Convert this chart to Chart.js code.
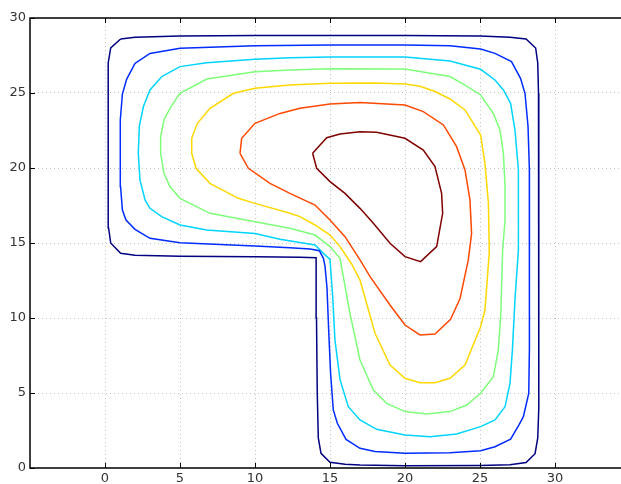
<!DOCTYPE html>
<html>
<head>
<meta charset="utf-8">
<script src="https://cdn.jsdelivr.net/npm/chart.js@4.4.1/dist/chart.umd.min.js"></script>
<style>
  html, body { margin: 0; padding: 0; background: #fff; }
  #wrap { width: 621px; height: 484px; }
</style>
</head>
<body>
<div id="wrap"><canvas id="canvas" width="621" height="484"></canvas></div>
<script>
// tick labels
var xTicks = [0, 5, 10, 15, 20, 25, 30];
var yTicks = [0, 5, 10, 15, 20, 25, 30];

// contour levels, lowest to highest (jet colours)
var levelColors = ['#000080', '#002cff', '#00d4ff', '#7dff7a', '#ffd800', '#ff4800', '#800000'];

// level 1
var c1x = [1.04, 2, 5, 10, 15, 20, 25, 27, 28.07, 28.71, 28.85, 28.9, 28.93, 28.93, 28.9, 28.85, 28.67, 28.07, 27, 25, 20, 17, 16, 15, 14.4, 14.22, 14.15, 14.1, 14.08, 14.07, 13, 10, 5, 2, 1.04, 0.38, 0.24, 0.2, 0.2, 0.24, 0.38, 1.04];
var c1y = [28.6, 28.72, 28.8, 28.83, 28.84, 28.83, 28.8, 28.72, 28.6, 28.0, 27, 25, 20, 10, 4, 2, 0.95, 0.36, 0.22, 0.17, 0.15, 0.2, 0.25, 0.38, 0.98, 2, 5, 10, 13, 14.02, 14.05, 14.08, 14.12, 14.18, 14.31, 15.0, 16, 20, 25, 27, 28.0, 28.6];
// level 2
var c2x = [2, 3, 5, 10, 15, 20, 23, 25.04, 26, 27.1, 27.7, 28, 28.2, 28.29, 28.3, 28.29, 28.25, 27.89, 27.6, 27.04, 26, 25.04, 23, 20, 18, 17, 16.07, 15.49, 15.22, 15.04, 14.92, 14.8, 14.67, 14.56, 14.29, 13.67, 12.33, 10, 5, 3, 2, 1.4, 1.16, 1.04, 1.0, 1.04, 1.16, 1.44, 2];
var c2y = [26.98, 27.64, 27.98, 28.15, 28.2, 28.2, 28.15, 27.93, 27.64, 27.09, 25.98, 24.98, 22.8, 20, 15, 8, 4.98, 3.42, 2.87, 1.93, 1.42, 1.15, 1.02, 0.98, 1.1, 1.31, 1.91, 2.98, 3.87, 6.31, 9, 12, 13.44, 13.98, 14.49, 14.6, 14.69, 14.8, 15.02, 15.31, 15.91, 16.53, 17.2, 18.75, 21, 23.2, 24.93, 25.91, 26.98];
// level 3
var c3x = [3.78, 5, 6.78, 10, 12.33, 15, 20, 23, 25.04, 26, 26.56, 27.04, 27.33, 27.56, 27.56, 27.56, 27.33, 27.16, 27, 26.67, 26, 25.04, 23.44, 21.67, 20, 18.11, 17, 16.22, 15.67, 15.33, 15.18, 15, 14.56, 14, 11.67, 10, 6.78, 5, 3.78, 3, 2.67, 2.33, 2.22, 2.29, 2.56, 3, 3.78];
var c3y = [26.09, 26.76, 27.02, 27.25, 27.35, 27.4, 27.4, 27.13, 26.58, 25.87, 25.2, 24.31, 22.53, 19.87, 16.53, 14.53, 11.2, 7.87, 5.64, 4.09, 3.2, 2.76, 2.27, 2.09, 2.2, 2.58, 3.2, 4.09, 5.87, 8.53, 11.42, 13.91, 14.31, 14.87, 15.25, 15.64, 15.87, 16.2, 16.76, 17.31, 17.87, 19.2, 20.98, 22.8, 24.1, 25.2, 26.09];
// level 4
var c4x = [4.33, 5, 6.78, 10, 12.33, 15, 20, 23, 24, 25.04, 25.89, 26.33, 26.56, 26.67, 26.67, 26.51, 26.38, 26.22, 25.89, 25.04, 24.11, 23, 21.44, 20, 18.78, 17.89, 17, 16.33, 15.67, 15, 14, 12.33, 10, 7, 5, 4.33, 3.93, 3.71, 3.71, 3.93, 4.33];
var c4y = [23.98, 24.98, 25.93, 26.42, 26.53, 26.62, 26.6, 26.1, 25.53, 24.87, 23.64, 22.53, 20.98, 18.76, 16.53, 14.53, 10.09, 7.87, 6.09, 4.98, 4.2, 3.76, 3.6, 3.76, 4.31, 5.2, 7.2, 10.31, 13.98, 14.76, 15.53, 15.98, 16.42, 16.98, 17.98, 18.76, 19.64, 20.98, 22.09, 23.2, 23.98];
// level 5
var c5x = [5.78, 6.16, 7, 8.56, 10, 12.33, 15, 18, 20, 21, 22, 23, 24, 25.04, 25.33, 25.56, 25.62, 25.33, 25.04, 24, 23, 22, 21, 20, 19, 18, 17, 16.44, 15.67, 15, 14, 13, 12.33, 10, 8.89, 7, 6.07, 5.78, 5.78];
var c5y = [21.98, 22.98, 23.98, 24.98, 25.31, 25.53, 25.65, 25.67, 25.6, 25.45, 25.1, 24.6, 23.87, 22.2, 20.31, 17.64, 14.4, 10.53, 9.42, 6.87, 5.98, 5.69, 5.69, 5.98, 6.87, 8.98, 12.53, 13.6, 14.76, 15.53, 16.2, 16.76, 16.98, 17.64, 17.98, 18.98, 19.98, 20.98, 21.98];
// level 6
var c6x = [9, 9.11, 10, 11.67, 13, 15, 17, 20, 21.22, 22.56, 23.44, 24, 24.33, 24.44, 24.22, 23.67, 23.04, 22, 21, 20, 19, 17.67, 17, 16, 15, 14, 12.33, 11, 9.56, 9];
var c6y = [20.98, 21.98, 22.98, 23.64, 23.98, 24.27, 24.36, 24.2, 23.76, 22.87, 21.42, 19.87, 17.87, 15.64, 13.87, 11.3, 9.91, 8.93, 8.87, 9.53, 10.87, 12.76, 13.87, 15.42, 16.53, 17.53, 18.31, 18.98, 19.98, 20.98];
// level 7
var c7x = [13.84, 14.78, 15.67, 17, 18.11, 20, 21.22, 22, 22.44, 22.51, 22.11, 21.04, 20, 19, 17.89, 17, 16, 15, 14.11, 13.84];
var c7y = [20.98, 22.02, 22.27, 22.42, 22.38, 21.98, 21.2, 20.09, 18.31, 16.98, 14.76, 13.76, 14.09, 14.98, 16.31, 17.31, 18.31, 19.09, 19.98, 20.98];

var contours = [[c1x, c1y], [c2x, c2y], [c3x, c3y], [c4x, c4y], [c5x, c5y], [c6x, c6y], [c7x, c7y]];

var datasets = contours.map(function(c, i) {
    return {
        data: c[0].map(function(x, j) { return {x: x, y: c[1][j]}; }),
        showLine: true,
        borderColor: levelColors[i],
        borderWidth: 1.5,
        pointRadius: 0,
        tension: 0,
        fill: false
    };
});

// axes frame and inward tick marks
var frame = {
    id: 'frame',
    afterDraw: function(chart) {
        var ctx = chart.ctx, a = chart.chartArea;
        var sx = chart.scales.x, sy = chart.scales.y;
        ctx.save();
        ctx.strokeStyle = '#000';
        ctx.lineWidth = 1.5;
        ctx.beginPath();
        ctx.moveTo(a.right + 2, a.top);
        ctx.lineTo(a.left, a.top);
        ctx.lineTo(a.left, a.bottom);
        ctx.lineTo(a.right + 2, a.bottom);
        ctx.stroke();
        ctx.lineWidth = 1;
        ctx.beginPath();
        xTicks.forEach(function(v) {
            var p = Math.round(sx.getPixelForValue(v)) + 0.5;
            ctx.moveTo(p, a.bottom); ctx.lineTo(p, a.bottom - 5);
            ctx.moveTo(p, a.top); ctx.lineTo(p, a.top + 5);
        });
        yTicks.forEach(function(v) {
            var p = Math.round(sy.getPixelForValue(v)) + 0.5;
            ctx.moveTo(a.left, p); ctx.lineTo(a.left + 5, p);
        });
        ctx.stroke();
        ctx.restore();
    }
};

var tickFont = { family: 'DejaVu Sans', size: 13 };

window.onload = function() {
    var ctx = document.getElementById('canvas').getContext('2d');
    window.myChart = new Chart(ctx, {
        type: 'scatter',
        data: { datasets: datasets },
        options: {
            responsive: false,
            animation: false,
            layout: { padding: { top: 18, right: 0, left: 0, bottom: 0 } },
            plugins: {
                legend: { display: false },
                tooltip: { enabled: false }
            },
            scales: {
                x: {
                    type: 'linear',
                    min: -5,
                    max: 34.4,
                    afterBuildTicks: function(s) { s.ticks = xTicks.map(function(v) { return {value: v}; }); },
                    afterFit: function(s) { s.height = 16; },
                    grid: { color: '#c4c4c4', lineWidth: 1, drawTicks: false },
                    border: { display: false, dash: [1, 3] },
                    ticks: { font: tickFont, color: '#333', padding: 3, maxRotation: 0, autoSkip: false }
                },
                y: {
                    type: 'linear',
                    min: 0,
                    max: 30,
                    afterBuildTicks: function(s) { s.ticks = yTicks.map(function(v) { return {value: v}; }); },
                    afterFit: function(s) { s.width = 30; },
                    grid: { color: '#c4c4c4', lineWidth: 1, drawTicks: false },
                    border: { display: false, dash: [1, 3] },
                    ticks: { font: tickFont, color: '#333', padding: 4, autoSkip: false }
                }
            }
        },
        plugins: [frame]
    });
};
</script>
</body>
</html>
